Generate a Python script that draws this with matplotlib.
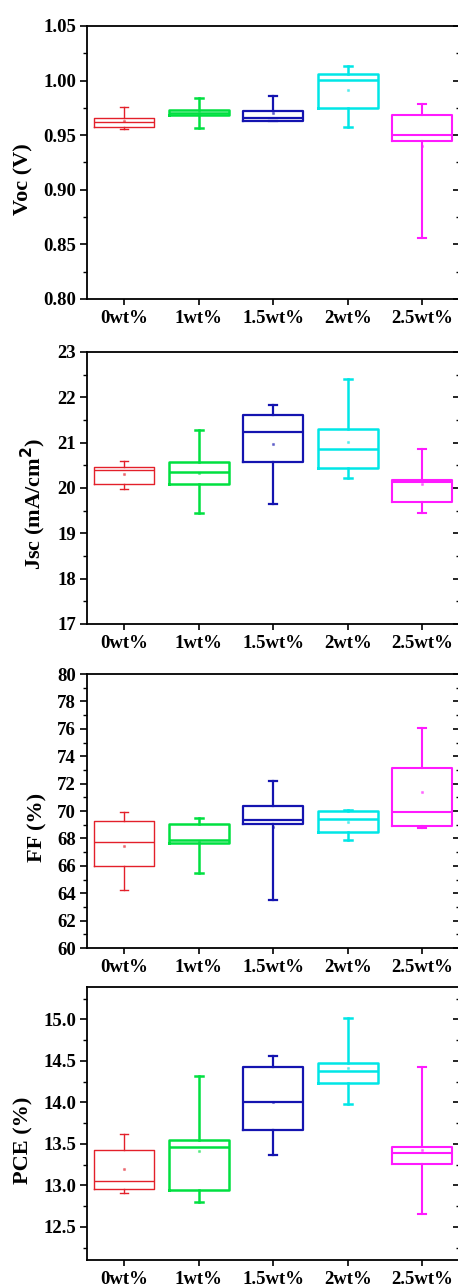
import matplotlib
matplotlib.use('Agg')
import matplotlib.pyplot as plt
from matplotlib.ticker import MultipleLocator

plt.rcParams['font.family'] = ['Liberation Serif', 'DejaVu Serif']
plt.rcParams['font.weight'] = 'bold'

groups = ['0wt%', '1wt%', '1.5wt%', '2wt%', '2.5wt%']
colors = ['#e3202a', '#00e040', '#1414b0', '#00e6e6', '#ff1aff']
widths = [1.0, 1.8, 1.6, 1.8, 1.5]

# each list: one value per group
voc_wlo = [0.9557, 0.9566, 0.9627, 0.9578, 0.8562]
voc_q1 = [0.9575, 0.9685, 0.9627, 0.9746, 0.9444]
voc_med = [0.9624, 0.9703, 0.9658, 1.0005, 0.9502]
voc_q3 = [0.9654, 0.9728, 0.9725, 1.0063, 0.9685]
voc_whi = [0.9758, 0.9838, 0.9856, 1.0137, 0.9786]
voc_mean = [0.9630, 0.9700, 0.9706, 0.9914, 0.9400]

jsc_wlo = [19.98, 19.44, 19.65, 20.22, 19.44]
jsc_q1 = [20.09, 20.09, 20.58, 20.44, 19.70]
jsc_med = [20.40, 20.36, 21.24, 20.85, 20.14]
jsc_q3 = [20.47, 20.58, 21.60, 21.29, 20.18]
jsc_whi = [20.60, 21.27, 21.83, 22.41, 20.87]
jsc_mean = [20.31, 20.32, 20.98, 21.02, 20.09]

ff_wlo = [64.27, 65.49, 63.54, 67.90, 68.73]
ff_q1 = [66.02, 67.66, 69.05, 68.49, 68.88]
ff_med = [67.73, 67.85, 69.32, 69.39, 69.90]
ff_q3 = [69.29, 69.07, 70.37, 70.02, 73.17]
ff_whi = [69.93, 69.49, 72.22, 70.10, 76.07]
ff_mean = [67.44, 67.80, 68.85, 69.22, 71.37]

pce_wlo = [12.91, 12.80, 13.36, 13.98, 12.66]
pce_q1 = [12.95, 12.94, 13.67, 14.23, 13.26]
pce_med = [13.05, 13.46, 14.00, 14.38, 13.39]
pce_q3 = [13.42, 13.55, 14.42, 14.47, 13.46]
pce_whi = [13.62, 14.32, 14.56, 15.02, 14.43]
pce_mean = [13.20, 13.41, 14.00, 14.41, 13.43]

panels = [
    ('Voc (V)', (voc_wlo, voc_q1, voc_med, voc_q3, voc_whi, voc_mean), (0.80, 1.05), 0.05, 0.025, '%.2f', -0.145),
    ('Jsc (mA/cm$^\\mathbf{2}$)', (jsc_wlo, jsc_q1, jsc_med, jsc_q3, jsc_whi, jsc_mean), (17, 23), 1, 0.5, '%d', -0.105),
    ('FF (%)', (ff_wlo, ff_q1, ff_med, ff_q3, ff_whi, ff_mean), (60, 80), 2, 1, '%d', -0.105),
    ('PCE (%)', (pce_wlo, pce_q1, pce_med, pce_q3, pce_whi, pce_mean), (12.1, 15.39), 0.5, 0.25, '%.1f', -0.145),
]

# axes rectangles in figure fractions (left, bottom, width, height)
rects = [
    (0.190, 0.7677, 0.8133, 0.2121),
    (0.190, 0.5152, 0.8133, 0.2113),
    (0.190, 0.2634, 0.8133, 0.2129),
    (0.190, 0.0210, 0.8133, 0.2121),
]

fig = plt.figure(figsize=(4.58, 12.87), dpi=100)

for (label, vals, ylim, major, minor, fmt, lx), rect in zip(panels, rects):
    ax = fig.add_axes(rect)
    wlo, q1, med, q3, whi, mean = vals
    for i in range(len(groups)):
        stats = [dict(whislo=wlo[i], q1=q1[i], med=med[i], q3=q3[i],
                      whishi=whi[i], mean=mean[i], fliers=[])]
        c = colors[i]
        lw = widths[i]
        ax.bxp(stats, positions=[i + 1], widths=0.8, capwidths=0.11,
               showmeans=True, manage_ticks=False,
               boxprops=dict(color=c, linewidth=lw),
               whiskerprops=dict(color=c, linewidth=lw),
               capprops=dict(color=c, linewidth=lw),
               medianprops=dict(color=c, linewidth=lw),
               meanprops=dict(marker='s', markersize=1.2, markerfacecolor=c,
                              markeredgecolor=c, alpha=0.45))
    ax.set_xlim(0.5, 5.5)
    ax.set_ylim(*ylim)
    ax.set_xticks(range(1, 6))
    ax.set_xticklabels(groups)
    ax.yaxis.set_major_locator(MultipleLocator(major))
    ax.yaxis.set_minor_locator(MultipleLocator(minor))
    ax.yaxis.set_major_formatter(plt.FormatStrFormatter(fmt))
    ax.tick_params(axis='y', which='both', direction='out', left=True, right=False)
    ax.tick_params(axis='y', which='major', length=5, width=1.2, labelsize=13.5, pad=3)
    ax.tick_params(axis='y', which='minor', length=3, width=1.0)
    ax.tick_params(axis='x', which='both', direction='out', length=4, width=1.2,
                   labelsize=13.5, pad=4, top=False)
    for lab in ax.get_xticklabels() + ax.get_yticklabels():
        lab.set_fontweight('bold')
    # inward ticks on right side
    sec = ax.secondary_yaxis('right')
    sec.yaxis.set_major_locator(MultipleLocator(major))
    sec.yaxis.set_minor_locator(MultipleLocator(minor))
    sec.tick_params(which='both', direction='in', labelright=False)
    sec.tick_params(which='major', length=5, width=1.2)
    sec.tick_params(which='minor', length=3, width=1.0)
    for s in ax.spines.values():
        s.set_linewidth(1.3)
    ax.set_ylabel(label, fontsize=16, fontweight='bold')
    ax.yaxis.set_label_coords(lx, 0.44)

fig.savefig('out.png', dpi=100)
